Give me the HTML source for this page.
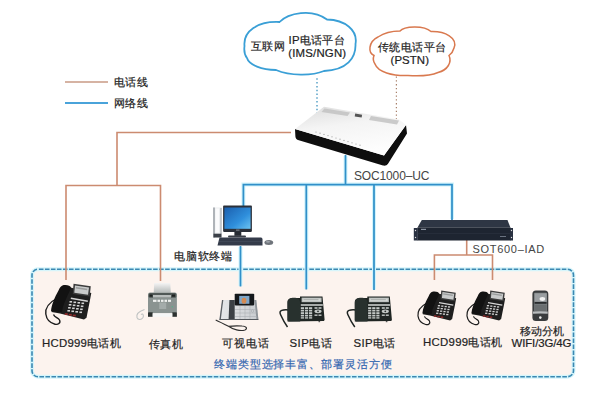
<!DOCTYPE html>
<html><head><meta charset="utf-8">
<style>
html,body{margin:0;padding:0;background:#fff;}
body{width:600px;height:417px;overflow:hidden;position:relative;font-family:"Liberation Sans",sans-serif;}
svg{position:absolute;left:0;top:0;}
.t{position:absolute;white-space:nowrap;color:#222;font-size:11.4px;line-height:1;-webkit-text-stroke:0.2px #222;}
</style></head><body>
<svg width="600" height="417" viewBox="0 0 600 417">
<defs>
<linearGradient id="scr" x1="0" y1="0" x2="1" y2="1">
<stop offset="0" stop-color="#1b5fae"/><stop offset="0.6" stop-color="#2f8fdc"/><stop offset="1" stop-color="#6cc4f2"/>
</linearGradient>
<linearGradient id="rtop" x1="0" y1="0" x2="0.3" y2="1">
<stop offset="0" stop-color="#dcdcdc"/><stop offset="0.45" stop-color="#f4f4f4"/><stop offset="1" stop-color="#fdfdfd"/>
</linearGradient>
<linearGradient id="tray" x1="0" y1="0" x2="0" y2="1">
<stop offset="0" stop-color="#f4f4f4"/><stop offset="1" stop-color="#b4b9b8"/>
</linearGradient>
<linearGradient id="faxb" x1="0" y1="0" x2="0" y2="1">
<stop offset="0" stop-color="#5d6664"/><stop offset="0.25" stop-color="#8a9391"/><stop offset="1" stop-color="#7a8482"/>
</linearGradient>
<linearGradient id="vpb" x1="0" y1="0" x2="1" y2="0">
<stop offset="0" stop-color="#e6e8ea"/><stop offset="1" stop-color="#c9ccd0"/>
</linearGradient>
<g id="hcd">
  <path d="M57.4,298 C50,302 45,308 45.8,314 C46.5,319 50,323 55,324.2 C58,325 61,323 59.5,320 C58,317.5 54.5,317.5 53.5,314.5" fill="none" stroke="#1c1c1c" stroke-width="1.4"/>
  <polygon points="63,285.5 72.5,288 91.3,293 90,300 86.5,317.7 84,319.5 60,313.5 51.5,312" fill="#1e1e1e"/>
  <polygon points="73.5,283.8 90.8,286.3 89.6,296.6 72.8,294" fill="#3c3c3c"/>
  <polygon points="75,285.5 89,287.6 88,294.8 74.3,292.7" fill="#c9cbcb"/>
  <polygon points="76,287 87.5,288.8 87,290.3 75.7,288.6" fill="#9a9c9c"/>
  <path d="M63,285.3 C66.5,284.5 70.5,285.5 71,287.8 C68.5,293.5 65.5,300 63,306.5 L62,312.3 L51,311.2 C51.5,305 54.5,297.5 58.5,290.5 C59.8,287.8 61,286 63,285.3 Z" fill="#121212"/>
  <polygon points="71,297.5 88,300.5 87.7,302 70.7,299" fill="#d4d4d4"/>
  <g fill="#d2d2d2">
    <rect x="69.5" y="301" width="2.6" height="1.6"/><rect x="73.5" y="301.5" width="2.6" height="1.6"/><rect x="77.5" y="302" width="2.6" height="1.6"/><rect x="81.5" y="302.5" width="2.6" height="1.6"/>
    <rect x="68.8" y="304" width="2.6" height="1.6"/><rect x="72.8" y="304.5" width="2.6" height="1.6"/><rect x="76.8" y="305" width="2.6" height="1.6"/><rect x="80.8" y="305.5" width="2.6" height="1.6"/>
    <rect x="68.1" y="307" width="2.6" height="1.6"/><rect x="72.1" y="307.5" width="2.6" height="1.6"/><rect x="76.1" y="308" width="2.6" height="1.6"/><rect x="80.1" y="308.5" width="2.6" height="1.6"/>
    <rect x="67.4" y="310" width="2.6" height="1.6"/><rect x="71.4" y="310.5" width="2.6" height="1.6"/><rect x="75.4" y="311" width="2.6" height="1.6"/><rect x="79.4" y="311.5" width="2.6" height="1.6"/>
  </g>
  <g fill="#8d2a2a"><rect x="64.8" y="313.2" width="3" height="1.8"/><rect x="68.8" y="313.9" width="3" height="1.8"/><rect x="72.8" y="314.6" width="3" height="1.8"/></g>
</g>
<g id="sip">
  <path d="M289,310 C283,309.5 278.5,310 280.5,314.5 C282.5,319 284.5,323 287.5,327" fill="none" stroke="#1e2422" stroke-width="1.5"/>
  <path d="M300,296.6 L322.5,296.6 L324.6,319.8 L324,321 L288.5,321.5 L287.5,320 L287.5,302 C287.5,299 290,298 293,298 L300,298 Z" fill="#1f2523"/>
  <path d="M287.5,321.5 L287.5,303 C287.5,299 290.5,297.8 293.8,297.8 C297.8,297.8 300.2,299.5 300.2,303 L300.2,321.5 Z" fill="#28312e"/>
  <rect x="301.6" y="297.6" width="20" height="4.6" fill="#b9bdbb"/>
  <rect x="302.8" y="298.6" width="17.6" height="2.6" fill="#d3d7d5"/>
  <rect x="303.5" y="299.5" width="15" height="0.6" fill="#8a8e8c"/>
  <rect x="300.8" y="304.2" width="22" height="1.6" fill="#c9cdcb"/>
  <g fill="#c3c8c6">
    <rect x="300.8" y="307.2" width="3.2" height="1.8"/><rect x="304.9" y="307.2" width="3.2" height="1.8"/><rect x="309" y="307.2" width="3.2" height="1.8"/>
    <rect x="300.8" y="309.7" width="3.2" height="1.8"/><rect x="304.9" y="309.7" width="3.2" height="1.8"/><rect x="309" y="309.7" width="3.2" height="1.8"/>
    <rect x="300.8" y="312.2" width="3.2" height="1.8"/><rect x="304.9" y="312.2" width="3.2" height="1.8"/><rect x="309" y="312.2" width="3.2" height="1.8"/>
    <rect x="300.8" y="314.7" width="3.2" height="1.8"/><rect x="304.9" y="314.7" width="3.2" height="1.8"/><rect x="309" y="314.7" width="3.2" height="1.8"/>
    <rect x="300.8" y="317.2" width="3.2" height="1.4"/><rect x="304.9" y="317.2" width="3.2" height="1.4"/><rect x="309" y="317.2" width="3.2" height="1.4"/>
    <rect x="314.5" y="307.2" width="3" height="1.6"/><rect x="318.5" y="307.2" width="3" height="1.6"/>
    <ellipse cx="318" cy="311.3" rx="3.6" ry="1.9"/>
    <rect x="314.5" y="314.5" width="3" height="1.4"/><rect x="318.5" y="314.5" width="3" height="1.4"/>
  </g>
  <circle cx="318" cy="311.3" r="0.9" fill="#2a302e"/>
  <rect x="318.5" y="321" width="1.6" height="1.2" fill="#555"/>
</g>
</defs>

<!-- terminal box -->
<rect x="32" y="269.2" width="541.5" height="107.5" rx="6" ry="6" fill="#fcf3ee"/>
<rect x="32" y="269.2" width="541.5" height="107.5" rx="6" ry="6" fill="none" stroke="#d6f5fb" stroke-width="4"/>
<rect x="32" y="269.2" width="541.5" height="107.5" rx="6" ry="6" fill="none" stroke="#3a88b2" stroke-width="1.6" stroke-dasharray="4.6 1.41" stroke-dashoffset="-0.9"/>

<!-- legend -->
<line x1="65" y1="82" x2="108" y2="82" stroke="#c89a84" stroke-width="1.4"/>
<line x1="65" y1="103" x2="108" y2="103" stroke="#4aa3da" stroke-width="2"/>

<!-- clouds -->
<path d="M244.5,46 C243,31 258,21 279.5,22 C288,13 312,8 327,19.5 C345,20 358,30 355.5,44 C356,58 347,70 324,71 C312,76 290,76 276,70 C262,70 249,65 247,58 C244.5,55 244,50 244.5,46 Z" fill="#fff" stroke="#3a9fd6" stroke-width="1.8"/>
<path d="M374,55.5 C368,53 368,42 378,37 C384,33 392,31 400,31 C404,26 424,25 431,31.5 C445,31 458,38 454,48 C453,52 451,54 449,55.5 C452,62 448,70 438,72.5 C430,76 416,76 408,75.5 C392,76 378,72 375,64 C373,61 373,58 374,55.5 Z" fill="#fff" stroke="#d9794f" stroke-width="1.5"/>

<!-- dotted lines -->
<line x1="317" y1="78.3" x2="317" y2="115" stroke="#5aa2c8" stroke-width="1.5" stroke-dasharray="1.5 2.3"/>
<line x1="396.4" y1="76.5" x2="396.4" y2="121" stroke="#a8806a" stroke-width="1.2" stroke-dasharray="1.3 2.5"/>

<!-- orange phone lines -->
<g stroke="#cc8b70" stroke-width="1.6" fill="none">
<polyline points="291,132.5 117,132.5 117,185.5"/>
<polyline points="66,280 66,185.5 160.5,185.5 160.5,281"/>
<polyline points="466.7,240 466.7,255"/>
<polyline points="434.4,280 434.4,255 492.5,255 492.5,280"/>
</g>

<!-- blue network lines -->
<g stroke="#d2f4fc" stroke-width="4" fill="none">
<line x1="345.5" y1="156" x2="345.5" y2="184.5"/>
<polyline points="243.4,206 243.4,184.5 452,184.5 452,219"/>
<line x1="306.3" y1="184.5" x2="306.3" y2="289"/>
<line x1="374" y1="184.5" x2="374" y2="289.5"/>
<line x1="240.5" y1="247" x2="240.5" y2="286"/>
</g>
<g stroke="#3190c9" stroke-width="1.75" fill="none">
<line x1="345.5" y1="155" x2="345.5" y2="184.5"/>
<polyline points="243.4,206 243.4,184.5 452,184.5 452,220"/>
<line x1="306.3" y1="184.5" x2="306.3" y2="289.5"/>
<line x1="374" y1="184.5" x2="374" y2="290"/>
<line x1="240.5" y1="246" x2="240.5" y2="286.5"/>
</g>

<!-- router -->
<path d="M295,129 L384,155.5 L406,125 L407,133.5 L388,163.8 C387,165.5 385,166 383,165.6 L298,140 C296.5,139.5 295.6,138.3 295.4,136.5 Z" fill="#0e0e0e"/>
<polygon points="295,129 324,106.8 399,119.5 406,125 384,155.5" fill="url(#rtop)"/>
<polygon points="324.5,108.5 350,112.5 347.5,116 321.5,112" fill="#c2c2c2" opacity="0.85"/>
<polygon points="371,116 399,120.5 397,124.5 369,120" fill="#c2c2c2" opacity="0.85"/>
<rect x="355" y="114" width="7" height="3" fill="#555" transform="rotate(9 358 115)"/>
<g fill="#9a9a9a">
<circle cx="316" cy="132" r="0.6"/><circle cx="320" cy="133.2" r="0.6"/><circle cx="324" cy="134.4" r="0.6"/><circle cx="328" cy="135.6" r="0.6"/><circle cx="332" cy="136.8" r="0.6"/><circle cx="336" cy="138" r="0.6"/><circle cx="340" cy="139.2" r="0.6"/><circle cx="344" cy="140.4" r="0.6"/><circle cx="348" cy="141.6" r="0.6"/><circle cx="352" cy="142.8" r="0.6"/><circle cx="356" cy="144" r="0.6"/><circle cx="360" cy="145.2" r="0.6"/>
</g>

<!-- IAD -->
<polygon points="421.8,220 507.5,220 510.4,227.4 417.5,227.4" fill="#2e3644"/>
<rect x="417.5" y="227.4" width="93" height="13.1" fill="#1e2531"/>
<rect x="417.5" y="233.2" width="93" height="0.6" fill="#2c3442"/>
<rect x="413.8" y="228" width="4" height="12.5" fill="#283040"/>
<rect x="510" y="228" width="3" height="12.5" fill="#283040"/>
<circle cx="415.5" cy="230.5" r="0.7" fill="#ddd"/><circle cx="415.5" cy="237.5" r="0.7" fill="#ddd"/>
<circle cx="511.5" cy="230.5" r="0.7" fill="#ddd"/><circle cx="511.5" cy="237.5" r="0.7" fill="#ddd"/>
<rect x="421" y="228.8" width="5" height="1.2" fill="#8a93a0"/>
<rect x="500" y="236" width="6" height="1" fill="#6a7380"/>

<!-- computer -->
<rect x="213.1" y="207.5" width="8.8" height="30" fill="#eceef0"/>
<rect x="213.1" y="207.5" width="1.8" height="30" fill="#a8acb2"/>
<rect x="215.5" y="208.5" width="3.5" height="24" fill="#fbfbfc"/>
<rect x="220" y="208" width="1.9" height="26" fill="#c4c8cc"/>
<rect x="213.5" y="233.7" width="8" height="3.8" fill="#3c4048"/>
<rect x="223.1" y="205.6" width="28.8" height="26.3" rx="0.8" fill="#2b3039"/>
<rect x="224.4" y="207.5" width="26.2" height="21.3" fill="url(#scr)"/>
<rect x="236" y="229.6" width="3.5" height="1" fill="#8a9099"/>
<rect x="234.4" y="231.9" width="6.9" height="4" fill="#262b33"/>
<rect x="228" y="235.6" width="18" height="2" rx="1" fill="#3a3f48"/>
<path d="M219.5,237.5 L261,237.5 C262,237.5 262.5,238.5 262.5,239.5 L262.5,245.6 L217.5,245.6 Z" fill="#343b4a"/>
<line x1="219" y1="241.5" x2="262" y2="241.5" stroke="#454d5c" stroke-width="0.7"/>
<ellipse cx="268.8" cy="242.5" rx="4.4" ry="2.5" fill="#6f747b"/>
<ellipse cx="268" cy="241.8" rx="2" ry="1" fill="#9ea3aa"/>

<!-- phones -->
<use href="#hcd"/>
<use href="#hcd" transform="translate(421.5,290.5) scale(0.84) translate(-50,-283.7)"/>
<use href="#hcd" transform="translate(470.5,290.5) scale(0.84) translate(-50,-283.7)"/>
<use href="#sip"/>
<use href="#sip" transform="translate(67.3,0)"/>

<!-- fax -->
<path d="M144.5,309.5 C140,311 136,314 137,317.5 C138,320.5 141.5,320 143,317.5 C144,315.5 143,313 141,314.5" fill="none" stroke="#bfc2c2" stroke-width="1.1"/>
<polygon points="154.2,283 170.3,283 170.8,292.8 153.7,292.8" fill="url(#tray)"/>
<rect x="148" y="292.6" width="28.9" height="20.7" rx="2" fill="#8a9391"/>
<rect x="148.6" y="293" width="27.7" height="4.8" rx="1.5" fill="#505856"/>
<rect x="153" y="295" width="18" height="2.6" fill="#b9bebd"/>
<rect x="149.5" y="294.5" width="3" height="2.2" fill="#1e2322"/><rect x="172" y="294.5" width="3" height="2.2" fill="#1e2322"/>
<g fill="#eef0ef"><rect x="153" y="299.7" width="3.5" height="2.2"/><rect x="157.5" y="299.7" width="2.5" height="2.2"/><rect x="161" y="299.7" width="2.5" height="2.2"/><rect x="164.5" y="299.7" width="2.5" height="2.2"/><rect x="168" y="299.7" width="3" height="2.2"/></g>
<rect x="159.2" y="302.5" width="7" height="6.5" fill="#a3abaa"/>
<circle cx="172.3" cy="306.7" r="0.8" fill="#5ab08a"/>
<rect x="148" y="312.3" width="4.7" height="4.5" fill="#2c3130"/><rect x="172.3" y="312.3" width="4.6" height="4.5" fill="#2c3130"/>
<rect x="152.7" y="313.3" width="19.6" height="3.5" fill="#f6f7f7"/>
<!-- video phone -->
<path d="M215.7,320 C220,322 225,324.5 229,326.5 C233,329.5 240,331.5 245,330 C248,328.5 246,326 242,326 C236,325.5 231,326 228.5,326.3" fill="none" stroke="#2e2e2e" stroke-width="1.2"/>
<polygon points="222,300 256.3,300 258.4,319.6 219.4,319.6" fill="url(#vpb)"/>
<polygon points="222,300 223.3,300 220.8,319.6 219.4,319.6" fill="#5a5f64"/>
<polygon points="229.4,300 234.7,300 234.7,319.6 228.6,319.6" fill="#3b4045"/>
<polygon points="254.5,300 256.3,300 258.4,319.6 256.5,319.6" fill="#8e9398"/>
<rect x="219.4" y="319" width="39" height="1" fill="#55595e"/>
<rect x="234.7" y="293.8" width="19.5" height="11.6" rx="0.8" fill="#15181b"/>
<rect x="239.2" y="295.9" width="10.2" height="7.9" fill="#7fa6c8"/>
<ellipse cx="244" cy="300.8" rx="2.4" ry="3" fill="#d48a52"/>
<g stroke="#a4a9ae" stroke-width="0.5"><line x1="235" y1="309.5" x2="256" y2="309.5"/><line x1="235" y1="313" x2="256.5" y2="313"/><line x1="235" y1="316.5" x2="257" y2="316.5"/>
<line x1="240" y1="306" x2="240" y2="319"/><line x1="245" y1="306" x2="245" y2="319"/><line x1="250" y1="306" x2="250" y2="319"/></g>
<circle cx="252.5" cy="311" r="1.3" fill="none" stroke="#9aa0a5" stroke-width="0.5"/>

<!-- mobile -->
<rect x="532.4" y="290.6" width="15.9" height="30.5" rx="3.5" fill="#3a3c3e"/>
<rect x="534.2" y="292.8" width="12.8" height="18.7" rx="0.8" fill="#7c8082"/>
<rect x="534.6" y="293.4" width="12" height="8.2" fill="#9a9ea1"/>
<ellipse cx="542.4" cy="299" rx="2.8" ry="1.9" fill="#f2f2f2"/>
<rect x="534.6" y="302" width="12" height="1.8" fill="#2a2c2e"/>
<rect x="534.6" y="304.6" width="12" height="6.4" fill="#6a6e70"/>
<path d="M533,311.5 Q540.3,310.8 547.7,311.5 L547.7,313.8 Q540.3,313 533,313.8 Z" fill="#b9bcbe"/>
<circle cx="540.3" cy="317.6" r="1.3" fill="#eeeeee"/>

</svg>

<div class="t" style="left:250.5px;top:40.5px;letter-spacing:0.5px;">互联网</div>
<div class="t" style="left:288.5px;top:35px;letter-spacing:0.3px;">IP电话平台</div>
<div class="t" style="left:288.2px;top:47.8px;letter-spacing:0.2px;">(IMS/NGN)</div>
<div class="t" style="left:378px;top:42.2px;letter-spacing:0.4px;">传统电话平台</div>
<div class="t" style="left:390.5px;top:54.8px;letter-spacing:0.1px;">(PSTN)</div>
<div class="t" style="left:113.5px;top:76.5px;letter-spacing:0.5px;">电话线</div>
<div class="t" style="left:113.5px;top:98px;letter-spacing:0.5px;">网络线</div>
<div class="t" style="left:354px;top:170px;font-size:12px;letter-spacing:-0.15px;color:#444;-webkit-text-stroke:0;">SOC1000–UC</div>
<div class="t" style="left:472.5px;top:243.5px;font-size:11px;letter-spacing:0.7px;color:#444;-webkit-text-stroke:0;">SOT600–IAD</div>
<div class="t" style="left:174px;top:250.5px;letter-spacing:0.8px;">电脑软终端</div>
<div class="t" style="left:42px;top:338px;letter-spacing:0.25px;">HCD999电话机</div>
<div class="t" style="left:148.5px;top:338.5px;letter-spacing:0.8px;">传真机</div>
<div class="t" style="left:222px;top:337.5px;letter-spacing:1px;">可视电话</div>
<div class="t" style="left:289.5px;top:337.5px;letter-spacing:0.5px;">SIP电话</div>
<div class="t" style="left:353.5px;top:337.5px;letter-spacing:0.4px;">SIP电话</div>
<div class="t" style="left:423px;top:337px;letter-spacing:0.3px;">HCD999电话机</div>
<div class="t" style="left:520px;top:326px;">移动分机</div>
<div class="t" style="left:511.5px;top:337.8px;letter-spacing:-0.1px;">WIFI/3G/4G</div>
<div class="t" style="left:214px;top:358.5px;letter-spacing:0.9px;color:#3467b0;-webkit-text-stroke:0.2px #3467b0;">终端类型选择丰富、部署灵活方便</div>
</body></html>
